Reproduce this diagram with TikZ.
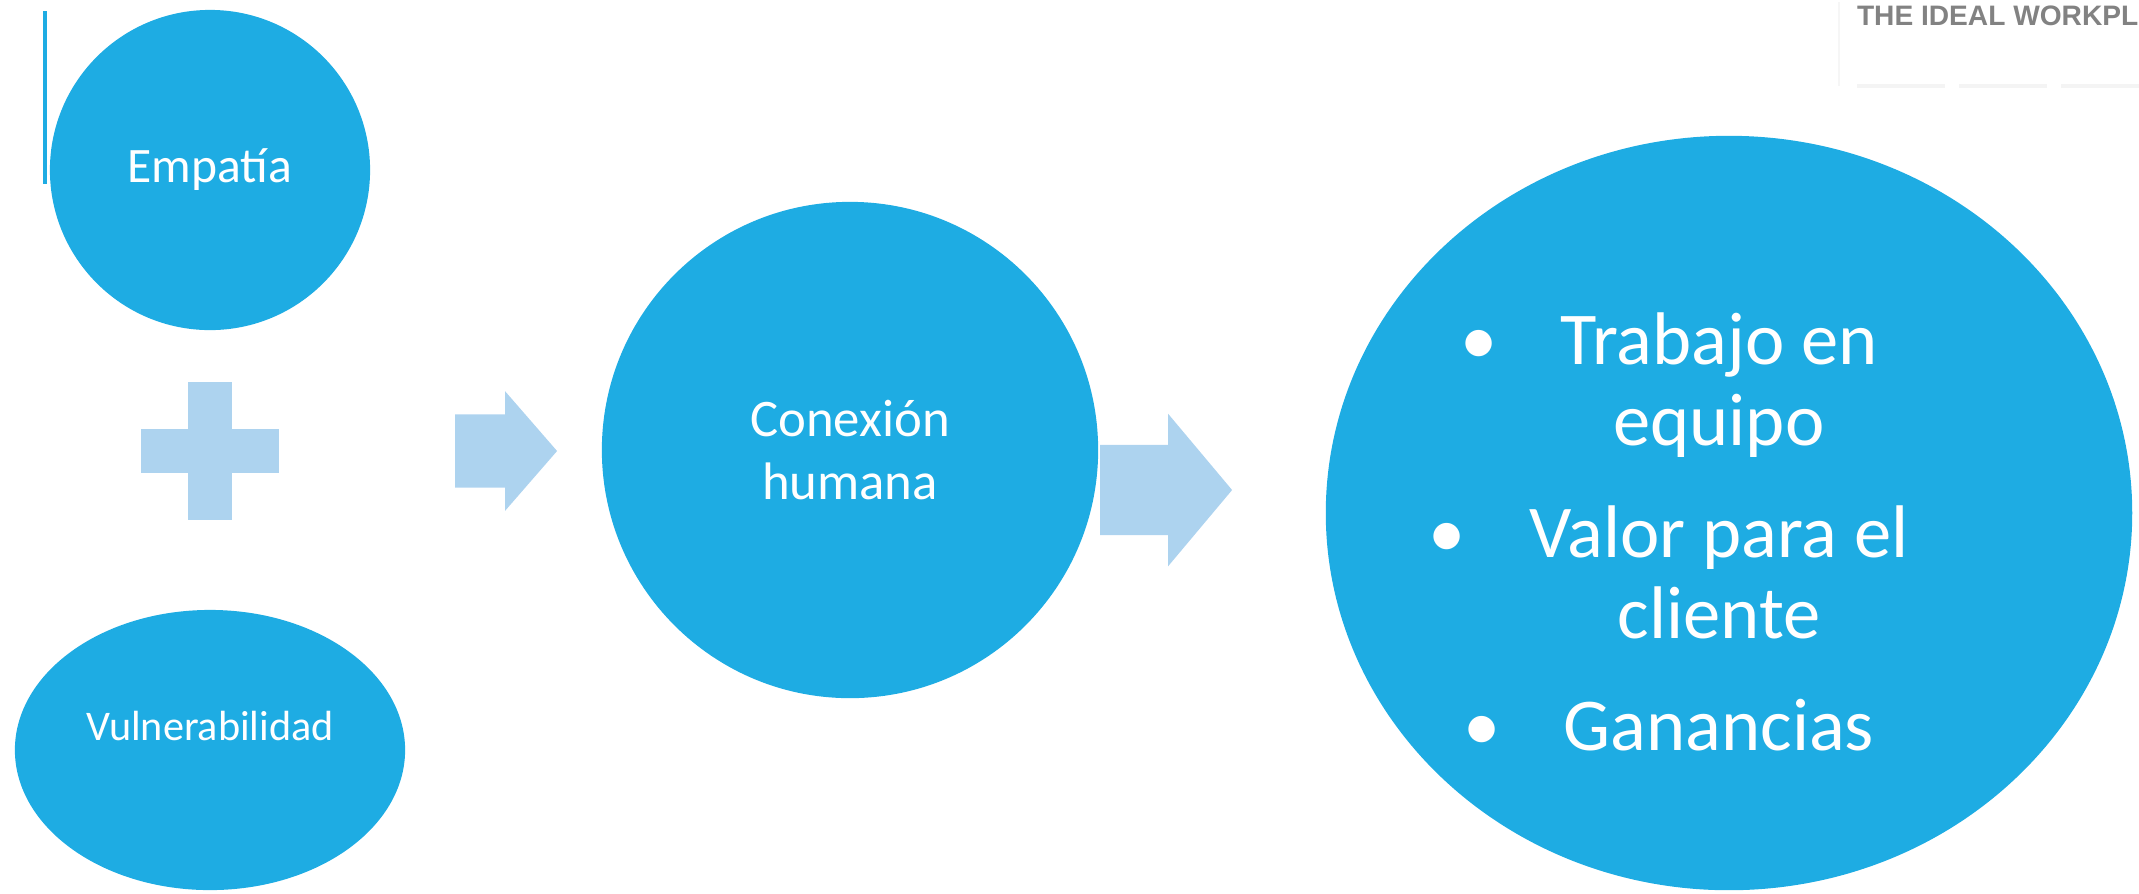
\documentclass[tikz,border=0pt]{standalone}
\usepackage{fontspec}
\setmainfont{Carlito}
\newfontfamily\logofont{Liberation Sans}
\usepackage{xcolor}
\usepackage{tikz}
\usetikzlibrary{shapes,arrows,positioning,calc}
\definecolor{skyblue}{RGB}{30,172,227}
\definecolor{paleblue}{RGB}{173,211,239}
\definecolor{logogray}{RGB}{130,130,130}

\begin{document}
\begin{tikzpicture}[x=0.01cm, y=-0.01cm]
  % Define styles
  \tikzstyle{bubble} = [ellipse, fill=skyblue, text=white, inner sep=0pt, align=center]
  \tikzstyle{blockarrow} = [single arrow, fill=paleblue, inner xsep=0pt, single arrow head indent=0pt]
  \tikzstyle{bar} = [rectangle, fill=paleblue, inner sep=0pt]
  \tikzstyle{items} = [text=white, align=center, inner sep=0pt, font=\fontsize{21.2}{23}\selectfont]
  \useasboundingbox (0,0) rectangle (2139,893);

  % Left column
  \draw [skyblue, line width=1.15pt] (45,11) -- (45,184);
  \node [bubble, minimum width=3.2cm, minimum height=3.2cm, font=\fontsize{14.1}{17}\selectfont] (empatia) at (210,170) {Empatía};
  \node [bar, minimum width=1.37cm, minimum height=0.44cm] (plush) at (210,451) {};
  \node [bar, minimum width=0.44cm, minimum height=1.37cm] (plusv) at (210,451) {};
  \node [bubble, minimum width=3.9cm, minimum height=2.8cm,
         label={[text=white, font=\fontsize{12}{14}\selectfont, yshift=0.24cm]center:Vulnerabilidad}] (vulner) at (210,750) {};

  % Middle
  \node [blockarrow, anchor=tip, minimum height=1.02cm, inner ysep=0.36cm, single arrow head extend=0.23cm, single arrow tip angle=98] (flechaA) at (558,451) {};
  \node [bubble, minimum width=4.96cm, minimum height=4.96cm, font=\fontsize{15}{18}\selectfont] (conexion) at (850,450) {Conexión\\humana};
  \node [blockarrow, anchor=tip, minimum height=1.32cm, inner ysep=0.445cm, single arrow head extend=0.31cm, single arrow tip angle=100] (flechaB) at (1233,490) {};

  % Result
  \node [bubble, minimum width=8.06cm, minimum height=7.54cm] (resultado) at (1729,513) {};
  \node [items, anchor=south] (lista) at (1719,752) {\llap{\textbullet\hspace{18pt}}Trabajo en\\equipo\\[8.9pt]
    \llap{\textbullet\hspace{18pt}}Valor para el\\cliente\\[8.9pt]
    \llap{\textbullet\hspace{18pt}}Ganancias};

  % Logo corner
  \draw [gray!7] (1839,2) -- (1839,86);
  \draw [gray!9, line width=1pt, dash pattern=on 25pt off 4pt] (1857,86) -- (2139,86);
  \node [font=\logofont\bfseries\fontsize{8}{9}\selectfont, text=logogray, anchor=base east, inner sep=0pt] (logo) at (2139,25) {THE IDEAL WORKPL};
\end{tikzpicture}
\end{document}
